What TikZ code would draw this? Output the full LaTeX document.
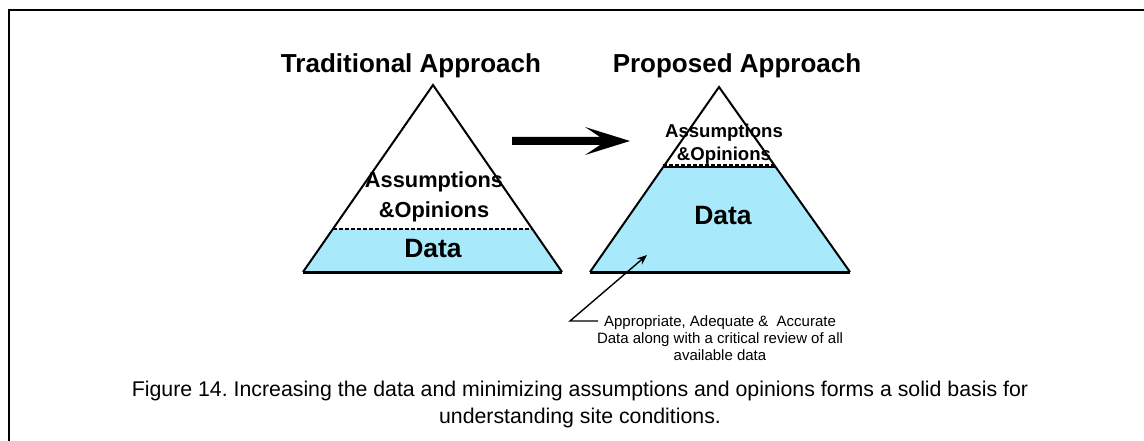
\documentclass[tikz,border=0pt]{standalone}
\usepackage{fontspec}
\setmainfont{Liberation Sans}
\usetikzlibrary{arrows.meta}
\definecolor{datafill}{RGB}{168,234,252}
\frenchspacing
\tikzset{
  side/.style={line width=2pt, line join=miter},
  baseedge/.style={line width=3pt},
  divider/.style={line width=2.2pt, dash pattern=on 4pt off 2pt},
  title/.style={font=\bfseries\fontsize{26}{30}\selectfont, inner sep=0pt},
  bigdata/.style={font=\bfseries\fontsize{26.5}{30}\selectfont, inner sep=0pt},
  caption/.style={font=\fontsize{21.3}{27}\selectfont, inner sep=0pt, align=center},
  note/.style={font=\fontsize{15}{17}\selectfont, inner sep=0pt, align=center}
}
\begin{document}
\begin{tikzpicture}[x=1pt,y=-1pt]
\useasboundingbox (0,0) rectangle (1144,441);
% frame
\draw[line width=2.2pt] (1144,10) -- (9,10) -- (9,441);
% left pyramid
\coordinate (LA) at (433,85);
\coordinate (LL) at (303,272);
\coordinate (LR) at (562,272);
\coordinate (LDL) at (333,229);
\coordinate (LDR) at (533,229);
\fill[datafill] (LDL) -- (LDR) -- (LR) -- (LL) -- cycle;
\draw[side] (LL) -- (LA) -- (LR);
\draw[baseedge] (LL) -- (LR);
\draw[divider] (LDL) -- (LDR);
% right pyramid
\coordinate (RA) at (719,87);
\coordinate (RL) at (590,272);
\coordinate (RR) at (850,272);
\coordinate (RDL) at (663,167);
\coordinate (RDR) at (776,167);
\fill[datafill] (RDL) -- (RDR) -- (RR) -- (RL) -- cycle;
\draw[side] (RL) -- (RA) -- (RR);
\draw[baseedge] (RL) -- (RR);
\draw[line width=2pt] (RDL) -- (RDR);
\draw[divider] ([yshift=1.5pt]RDL) -- ([yshift=1.5pt]RDR);
% titles
\node[title, anchor=base] (t1) at (411,73) {Traditional Approach};
\node[title, anchor=base] (t2) at (737,73) {Proposed Approach};
% labels
\node[font=\bfseries\fontsize{21.8}{30}\selectfont, inner sep=0pt, align=center] (la) at (434,197) {Assumptions\\\&Opinions};
\node[bigdata, anchor=base] (ld) at (433,258) {Data};
\node[font=\bfseries\fontsize{18.6}{23}\selectfont, inner sep=0pt, align=center] (ra) at (724,144) {Assumptions\\\&Opinions};
\node[bigdata, anchor=base] (rd) at (723,225) {Data};
% big arrow
\fill (512,137) -- (600,137) -- (585,127) -- (630,141) -- (585,155) -- (600,145) -- (512,145) -- cycle;
% callout
\node[note] (nt) at (720,338) {Appropriate, Adequate \&\ \ Accurate\\Data along with a critical review of all\\available data};
\coordinate (corner) at (570,321);
\coordinate (tip) at (647,255);
\draw[line width=1.4pt, -{Stealth[length=10pt,width=8pt]}] (598,321) -- (corner) -- (tip);
% caption
\node[caption] (cap) at (580,404) {Figure 14. Increasing the data and minimizing assumptions and opinions forms a solid basis for\\understanding site conditions.};
\end{tikzpicture}
\end{document}
